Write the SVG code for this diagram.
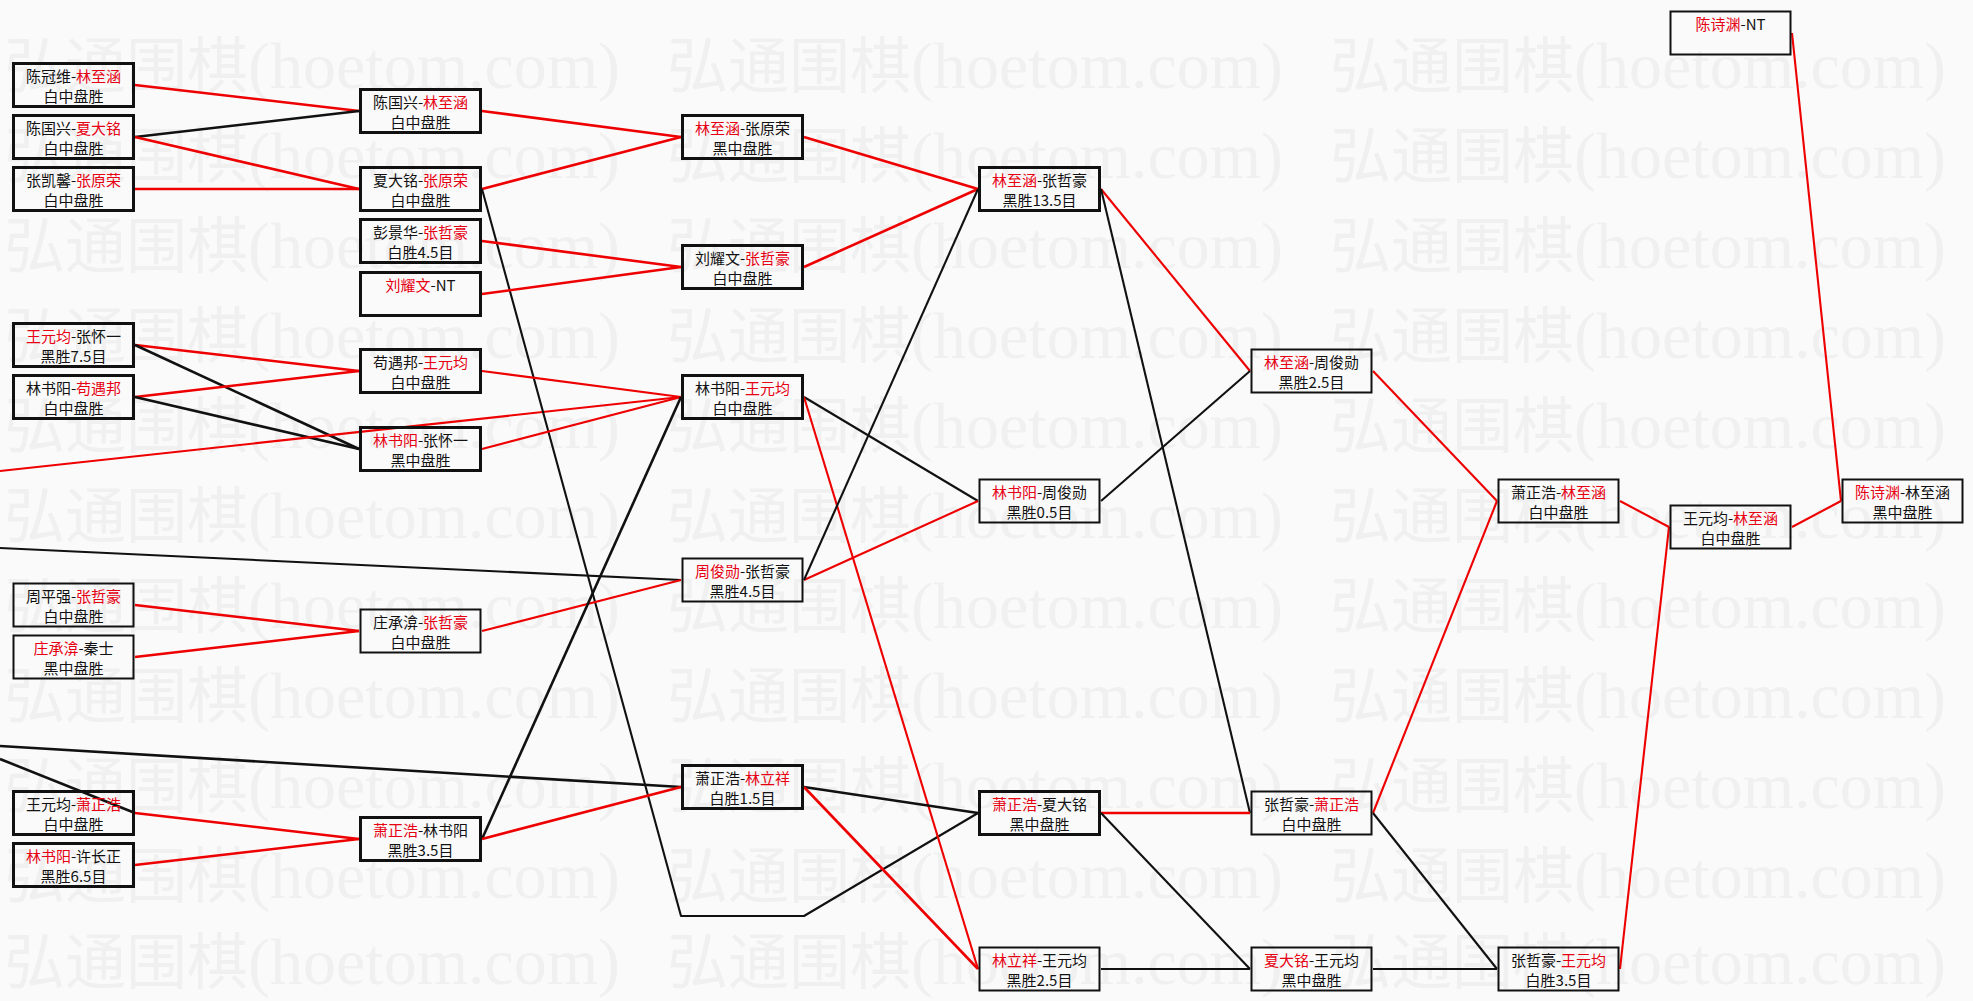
<svg xmlns="http://www.w3.org/2000/svg" width="1973" height="1001" viewBox="0 0 1973 1001">
<style>
.bg{fill:#fafafa}
.wm{font-family:"Noto Sans CJK SC",sans-serif;font-size:61px;fill:#f0f0f0}
.wa{font-family:"Liberation Serif",serif;font-size:66px}
.box{fill:none;stroke:#111;stroke-width:3}
.thin .box{stroke-width:2}
.t{font-family:"Noto Sans CJK SC",sans-serif;font-size:15px;fill:#111;text-anchor:middle}
.r{fill:#e60012}
.lk{fill:none;stroke-width:2.6;stroke-linejoin:round}
.lk2{fill:none;stroke-width:2.1;stroke-linejoin:round}
.lr{stroke:#ee0000}
.lb{stroke:#111}
</style>
<rect class="bg" x="0" y="0" width="1973" height="1001"/>
<g id="watermark">
<text class="wm" x="4" y="88">弘通围棋<tspan class="wa">(hoetom.com)</tspan></text>
<text class="wm" x="667" y="88">弘通围棋<tspan class="wa">(hoetom.com)</tspan></text>
<text class="wm" x="1330" y="88">弘通围棋<tspan class="wa">(hoetom.com)</tspan></text>
<text class="wm" x="4" y="178">弘通围棋<tspan class="wa">(hoetom.com)</tspan></text>
<text class="wm" x="667" y="178">弘通围棋<tspan class="wa">(hoetom.com)</tspan></text>
<text class="wm" x="1330" y="178">弘通围棋<tspan class="wa">(hoetom.com)</tspan></text>
<text class="wm" x="4" y="268">弘通围棋<tspan class="wa">(hoetom.com)</tspan></text>
<text class="wm" x="667" y="268">弘通围棋<tspan class="wa">(hoetom.com)</tspan></text>
<text class="wm" x="1330" y="268">弘通围棋<tspan class="wa">(hoetom.com)</tspan></text>
<text class="wm" x="4" y="358">弘通围棋<tspan class="wa">(hoetom.com)</tspan></text>
<text class="wm" x="667" y="358">弘通围棋<tspan class="wa">(hoetom.com)</tspan></text>
<text class="wm" x="1330" y="358">弘通围棋<tspan class="wa">(hoetom.com)</tspan></text>
<text class="wm" x="4" y="448">弘通围棋<tspan class="wa">(hoetom.com)</tspan></text>
<text class="wm" x="667" y="448">弘通围棋<tspan class="wa">(hoetom.com)</tspan></text>
<text class="wm" x="1330" y="448">弘通围棋<tspan class="wa">(hoetom.com)</tspan></text>
<text class="wm" x="4" y="538">弘通围棋<tspan class="wa">(hoetom.com)</tspan></text>
<text class="wm" x="667" y="538">弘通围棋<tspan class="wa">(hoetom.com)</tspan></text>
<text class="wm" x="1330" y="538">弘通围棋<tspan class="wa">(hoetom.com)</tspan></text>
<text class="wm" x="4" y="628">弘通围棋<tspan class="wa">(hoetom.com)</tspan></text>
<text class="wm" x="667" y="628">弘通围棋<tspan class="wa">(hoetom.com)</tspan></text>
<text class="wm" x="1330" y="628">弘通围棋<tspan class="wa">(hoetom.com)</tspan></text>
<text class="wm" x="4" y="718">弘通围棋<tspan class="wa">(hoetom.com)</tspan></text>
<text class="wm" x="667" y="718">弘通围棋<tspan class="wa">(hoetom.com)</tspan></text>
<text class="wm" x="1330" y="718">弘通围棋<tspan class="wa">(hoetom.com)</tspan></text>
<text class="wm" x="4" y="808">弘通围棋<tspan class="wa">(hoetom.com)</tspan></text>
<text class="wm" x="667" y="808">弘通围棋<tspan class="wa">(hoetom.com)</tspan></text>
<text class="wm" x="1330" y="808">弘通围棋<tspan class="wa">(hoetom.com)</tspan></text>
<text class="wm" x="4" y="898">弘通围棋<tspan class="wa">(hoetom.com)</tspan></text>
<text class="wm" x="667" y="898">弘通围棋<tspan class="wa">(hoetom.com)</tspan></text>
<text class="wm" x="1330" y="898">弘通围棋<tspan class="wa">(hoetom.com)</tspan></text>
<text class="wm" x="4" y="984">弘通围棋<tspan class="wa">(hoetom.com)</tspan></text>
<text class="wm" x="667" y="984">弘通围棋<tspan class="wa">(hoetom.com)</tspan></text>
<text class="wm" x="1330" y="984">弘通围棋<tspan class="wa">(hoetom.com)</tspan></text>
</g>
<g id="connectors">
<path class="lk lr" d="M135 85L359 111"/>
<path class="lk lb" d="M135 137L359 111"/>
<path class="lk lr" d="M135 137L359 189"/>
<path class="lk lr" d="M135 189L359 189"/>
<path class="lk lr" d="M135 345L359 371"/>
<path class="lk lb" d="M135 345L359 449"/>
<path class="lk lr" d="M135 397L359 371"/>
<path class="lk lb" d="M135 397L359 449"/>
<path class="lk lr" d="M135 605L359 631"/>
<path class="lk lr" d="M135 657L359 631"/>
<path class="lk lr" d="M135 813L359 839"/>
<path class="lk lr" d="M135 865L359 839"/>
<path class="lk lb" d="M0 759L135 813"/>
<path class="lk2 lr" d="M0 471L681 397"/>
<path class="lk2 lb" d="M0 548L681 580"/>
<path class="lk lb" d="M0 746L681 787"/>
<path class="lk lr" d="M482 111L681 137"/>
<path class="lk lr" d="M482 189L681 137"/>
<path class="lk2 lb" d="M482 189L681 916L804 916L978 813"/>
<path class="lk lr" d="M482 241L681 267"/>
<path class="lk lr" d="M482 294L681 267"/>
<path class="lk2 lr" d="M482 371L681 397"/>
<path class="lk2 lr" d="M482 449L681 397"/>
<path class="lk2 lr" d="M482 631L681 580"/>
<path class="lk lb" d="M482 839L681 397"/>
<path class="lk lr" d="M482 839L681 787"/>
<path class="lk lr" d="M804 137L978 189"/>
<path class="lk lr" d="M804 267L978 189"/>
<path class="lk2 lb" d="M804 397L978 501"/>
<path class="lk2 lr" d="M804 397L978 969"/>
<path class="lk2 lr" d="M804 580L978 501"/>
<path class="lk2 lb" d="M804 580L978 189"/>
<path class="lk lb" d="M804 787L978 813"/>
<path class="lk lr" d="M804 787L978 969"/>
<path class="lk2 lr" d="M1101 189L1250 371"/>
<path class="lk2 lb" d="M1101 189L1250 813"/>
<path class="lk2 lb" d="M1101 501L1250 371"/>
<path class="lk lr" d="M1101 813L1250 813"/>
<path class="lk2 lb" d="M1101 813L1250 969"/>
<path class="lk2 lb" d="M1101 969L1250 969"/>
<path class="lk2 lr" d="M1373 371L1497 501"/>
<path class="lk2 lr" d="M1373 813L1497 501"/>
<path class="lk2 lb" d="M1373 813L1497 969"/>
<path class="lk2 lb" d="M1373 969L1497 969"/>
<path class="lk2 lr" d="M1620 501L1669 527"/>
<path class="lk2 lr" d="M1620 969L1669 527"/>
<path class="lk2 lr" d="M1792 527L1841 501"/>
<path class="lk2 lr" d="M1792 33L1841 501"/>
</g>
<g id="n1"><rect class="box" x="13.5" y="63.5" width="120" height="43"/><text class="t" x="73.5" y="82">陈冠维-<tspan class="r">林至涵</tspan></text><text class="t" x="73.5" y="102">白中盘胜</text></g>
<g id="n2"><rect class="box" x="13.5" y="115.5" width="120" height="43"/><text class="t" x="73.5" y="134">陈国兴-<tspan class="r">夏大铭</tspan></text><text class="t" x="73.5" y="154">白中盘胜</text></g>
<g id="n3"><rect class="box" x="13.5" y="167.5" width="120" height="43"/><text class="t" x="73.5" y="186">张凯馨-<tspan class="r">张原荣</tspan></text><text class="t" x="73.5" y="206">白中盘胜</text></g>
<g id="n4"><rect class="box" x="13.5" y="323.5" width="120" height="43"/><text class="t" x="73.5" y="342"><tspan class="r">王元均</tspan>-张怀一</text><text class="t" x="73.5" y="362">黑胜7.5目</text></g>
<g id="n5"><rect class="box" x="13.5" y="375.5" width="120" height="43"/><text class="t" x="73.5" y="394">林书阳-<tspan class="r">苟遇邦</tspan></text><text class="t" x="73.5" y="414">白中盘胜</text></g>
<g id="n6" class="thin"><rect class="box" x="13.5" y="583.5" width="120" height="43"/><text class="t" x="73.5" y="602">周平强-<tspan class="r">张哲豪</tspan></text><text class="t" x="73.5" y="622">白中盘胜</text></g>
<g id="n7" class="thin"><rect class="box" x="13.5" y="635.5" width="120" height="43"/><text class="t" x="73.5" y="654"><tspan class="r">庄承渰</tspan>-秦士</text><text class="t" x="73.5" y="674">黑中盘胜</text></g>
<g id="n8"><rect class="box" x="13.5" y="791.5" width="120" height="43"/><text class="t" x="73.5" y="810">王元均-<tspan class="r">萧正浩</tspan></text><text class="t" x="73.5" y="830">白中盘胜</text></g>
<g id="n9"><rect class="box" x="13.5" y="843.5" width="120" height="43"/><text class="t" x="73.5" y="862"><tspan class="r">林书阳</tspan>-许长正</text><text class="t" x="73.5" y="882">黑胜6.5目</text></g>
<g id="n10"><rect class="box" x="360.5" y="89.5" width="120" height="43"/><text class="t" x="420.5" y="108">陈国兴-<tspan class="r">林至涵</tspan></text><text class="t" x="420.5" y="128">白中盘胜</text></g>
<g id="n11"><rect class="box" x="360.5" y="167.5" width="120" height="43"/><text class="t" x="420.5" y="186">夏大铭-<tspan class="r">张原荣</tspan></text><text class="t" x="420.5" y="206">白中盘胜</text></g>
<g id="n12"><rect class="box" x="360.5" y="219.5" width="120" height="43"/><text class="t" x="420.5" y="238">彭景华-<tspan class="r">张哲豪</tspan></text><text class="t" x="420.5" y="258">白胜4.5目</text></g>
<g id="n13"><rect class="box" x="360.5" y="272.5" width="120" height="43"/><text class="t" x="420.5" y="291"><tspan class="r">刘耀文</tspan>-NT</text></g>
<g id="n14"><rect class="box" x="360.5" y="349.5" width="120" height="43"/><text class="t" x="420.5" y="368">苟遇邦-<tspan class="r">王元均</tspan></text><text class="t" x="420.5" y="388">白中盘胜</text></g>
<g id="n15"><rect class="box" x="360.5" y="427.5" width="120" height="43"/><text class="t" x="420.5" y="446"><tspan class="r">林书阳</tspan>-张怀一</text><text class="t" x="420.5" y="466">黑中盘胜</text></g>
<g id="n16" class="thin"><rect class="box" x="360.5" y="609.5" width="120" height="43"/><text class="t" x="420.5" y="628">庄承渰-<tspan class="r">张哲豪</tspan></text><text class="t" x="420.5" y="648">白中盘胜</text></g>
<g id="n17"><rect class="box" x="360.5" y="817.5" width="120" height="43"/><text class="t" x="420.5" y="836"><tspan class="r">萧正浩</tspan>-林书阳</text><text class="t" x="420.5" y="856">黑胜3.5目</text></g>
<g id="n18"><rect class="box" x="682.5" y="115.5" width="120" height="43"/><text class="t" x="742.5" y="134"><tspan class="r">林至涵</tspan>-张原荣</text><text class="t" x="742.5" y="154">黑中盘胜</text></g>
<g id="n19"><rect class="box" x="682.5" y="245.5" width="120" height="43"/><text class="t" x="742.5" y="264">刘耀文-<tspan class="r">张哲豪</tspan></text><text class="t" x="742.5" y="284">白中盘胜</text></g>
<g id="n20"><rect class="box" x="682.5" y="375.5" width="120" height="43"/><text class="t" x="742.5" y="394">林书阳-<tspan class="r">王元均</tspan></text><text class="t" x="742.5" y="414">白中盘胜</text></g>
<g id="n21" class="thin"><rect class="box" x="682.5" y="558.5" width="120" height="43"/><text class="t" x="742.5" y="577"><tspan class="r">周俊勋</tspan>-张哲豪</text><text class="t" x="742.5" y="597">黑胜4.5目</text></g>
<g id="n22"><rect class="box" x="682.5" y="765.5" width="120" height="43"/><text class="t" x="742.5" y="784">萧正浩-<tspan class="r">林立祥</tspan></text><text class="t" x="742.5" y="804">白胜1.5目</text></g>
<g id="n23"><rect class="box" x="979.5" y="167.5" width="120" height="43"/><text class="t" x="1039.5" y="186"><tspan class="r">林至涵</tspan>-张哲豪</text><text class="t" x="1039.5" y="206">黑胜13.5目</text></g>
<g id="n24" class="thin"><rect class="box" x="979.5" y="479.5" width="120" height="43"/><text class="t" x="1039.5" y="498"><tspan class="r">林书阳</tspan>-周俊勋</text><text class="t" x="1039.5" y="518">黑胜0.5目</text></g>
<g id="n25"><rect class="box" x="979.5" y="791.5" width="120" height="43"/><text class="t" x="1039.5" y="810"><tspan class="r">萧正浩</tspan>-夏大铭</text><text class="t" x="1039.5" y="830">黑中盘胜</text></g>
<g id="n26" class="thin"><rect class="box" x="979.5" y="947.5" width="120" height="43"/><text class="t" x="1039.5" y="966"><tspan class="r">林立祥</tspan>-王元均</text><text class="t" x="1039.5" y="986">黑胜2.5目</text></g>
<g id="n27" class="thin"><rect class="box" x="1251.5" y="349.5" width="120" height="43"/><text class="t" x="1311.5" y="368"><tspan class="r">林至涵</tspan>-周俊勋</text><text class="t" x="1311.5" y="388">黑胜2.5目</text></g>
<g id="n28" class="thin"><rect class="box" x="1251.5" y="791.5" width="120" height="43"/><text class="t" x="1311.5" y="810">张哲豪-<tspan class="r">萧正浩</tspan></text><text class="t" x="1311.5" y="830">白中盘胜</text></g>
<g id="n29" class="thin"><rect class="box" x="1251.5" y="947.5" width="120" height="43"/><text class="t" x="1311.5" y="966"><tspan class="r">夏大铭</tspan>-王元均</text><text class="t" x="1311.5" y="986">黑中盘胜</text></g>
<g id="n30" class="thin"><rect class="box" x="1498.5" y="479.5" width="120" height="43"/><text class="t" x="1558.5" y="498">萧正浩-<tspan class="r">林至涵</tspan></text><text class="t" x="1558.5" y="518">白中盘胜</text></g>
<g id="n31" class="thin"><rect class="box" x="1498.5" y="947.5" width="120" height="43"/><text class="t" x="1558.5" y="966">张哲豪-<tspan class="r">王元均</tspan></text><text class="t" x="1558.5" y="986">白胜3.5目</text></g>
<g id="n32" class="thin"><rect class="box" x="1670.5" y="11.5" width="120" height="43"/><text class="t" x="1730.5" y="30"><tspan class="r">陈诗渊</tspan>-NT</text></g>
<g id="n33" class="thin"><rect class="box" x="1670.5" y="505.5" width="120" height="43"/><text class="t" x="1730.5" y="524">王元均-<tspan class="r">林至涵</tspan></text><text class="t" x="1730.5" y="544">白中盘胜</text></g>
<g id="n34" class="thin"><rect class="box" x="1842.5" y="479.5" width="120" height="43"/><text class="t" x="1902.5" y="498"><tspan class="r">陈诗渊</tspan>-林至涵</text><text class="t" x="1902.5" y="518">黑中盘胜</text></g>
</svg>
